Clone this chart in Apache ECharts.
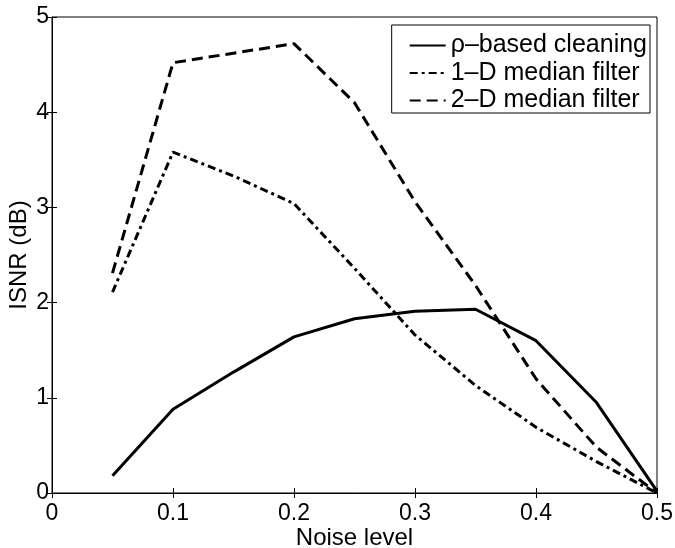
<!DOCTYPE html>
<html>
<head>
<meta charset="utf-8">
<script src="https://cdn.jsdelivr.net/npm/echarts@6/dist/echarts.min.js"></script>
<style>html,body{margin:0;padding:0;background:#fff}#c{width:675px;height:548px}</style>
</head>
<body>
<div id="c"></div>
<script>
const noiseLevels = [0.05, 0.10, 0.15, 0.20, 0.25, 0.30, 0.35, 0.40, 0.45, 0.50];
const rhoCleaning = [0.18, 0.88, 1.27, 1.64, 1.83, 1.91, 1.93, 1.60, 0.95, 0.02];
const median1D   = [2.11, 3.58, 3.33, 3.04, 2.36, 1.66, 1.13, 0.69, 0.33, 0.00];
const median2D   = [2.31, 4.52, 4.62, 4.72, 4.10, 3.06, 2.18, 1.20, 0.48, 0.00];
const seriesNames = ['\u03c1\u2013based cleaning', '1\u2013D median filter', '2\u2013D median filter'];
const xTicks = [0, 0.1, 0.2, 0.3, 0.4, 0.5];
const yTicks = [0, 1, 2, 3, 4, 5];

const FONT = 'Liberation Sans, Arial, Helvetica, sans-serif';
const pair = arr => noiseLevels.map((x, i) => [x, arr[i]]);
const lineStyles = [
  {color: '#000', width: 3, type: 'solid'},
  {color: '#000', width: 3, type: [8, 4, 3, 4]},
  {color: '#000', width: 3, type: [11, 6]}
];
const datas = [rhoCleaning, median1D, median2D];

const chart = echarts.init(document.getElementById('c'), null, {renderer: 'canvas'});
chart.setOption({
  animation: false,
  backgroundColor: '#fff',
  grid: {left: 52, right: 18, top: 17, bottom: 55, show: true, borderColor: '#000', borderWidth: 1, backgroundColor: 'transparent', outerBoundsMode: 'none', containLabel: false},
  legend: {
    show: true,
    orient: 'vertical',
    right: 25, top: 25,
    itemWidth: 36, itemHeight: 12, itemGap: 2.5,
    padding: [8, 3, 0, 17],
    backgroundColor: '#fff',
    borderColor: '#000', borderWidth: 1, borderRadius: 0,
    textStyle: {fontFamily: FONT, fontSize: 25, color: '#000', lineHeight: 23},
    itemStyle: {opacity: 0}
  },
  xAxis: [{
    type: 'value', min: 0, max: 0.5, interval: 0.1,
    name: 'Noise level', nameLocation: 'middle', nameGap: 33, nameMoveOverlap: false,
    nameTextStyle: {fontFamily: FONT, fontSize: 24, color: '#000'},
    axisLine: {show: true, lineStyle: {color: '#000', width: 1}},
    axisTick: {show: true, inside: true, length: 5, lineStyle: {color: '#000'}},
    axisLabel: {fontFamily: FONT, fontSize: 23, color: '#000', margin: 9, formatter: v => xTicks.includes(Math.round(v*10)/10) ? String(Math.round(v*10)/10) : ''},
    splitLine: {show: false}
  }, {
    type: 'value', min: 0, max: 0.5, interval: 0.1, position: 'top',
    axisLine: {show: true, lineStyle: {color: '#000', width: 1}},
    axisTick: {show: true, inside: true, length: 5, lineStyle: {color: '#000'}},
    axisLabel: {show: false}, splitLine: {show: false}
  }],
  yAxis: [{
    type: 'value', min: 0, max: 5, interval: 1,
    name: 'ISNR (dB)', nameLocation: 'middle', nameGap: 21, nameRotate: 90, nameMoveOverlap: false,
    nameTextStyle: {fontFamily: FONT, fontSize: 24, color: '#000'},
    axisLine: {show: true, lineStyle: {color: '#000', width: 1}},
    axisTick: {show: true, inside: true, length: 5, lineStyle: {color: '#000'}},
    axisLabel: {fontFamily: FONT, fontSize: 23, color: '#000', margin: 3, formatter: v => yTicks.includes(v) ? String(v) : ''},
    splitLine: {show: false}
  }, {
    type: 'value', min: 0, max: 5, interval: 1, position: 'right',
    axisLine: {show: true, lineStyle: {color: '#000', width: 1}},
    axisTick: {show: true, inside: true, length: 5, lineStyle: {color: '#000'}},
    axisLabel: {show: false}, splitLine: {show: false}
  }],
  series: seriesNames.map((n, i) => ({
    name: n, type: 'line', data: pair(datas[i]),
    xAxisIndex: 0, yAxisIndex: 0,
    symbol: 'none', showSymbol: false,
    lineStyle: lineStyles[i], itemStyle: {color: '#000'},
    z: 3 - i
  }))
});
</script>
</body>
</html>
